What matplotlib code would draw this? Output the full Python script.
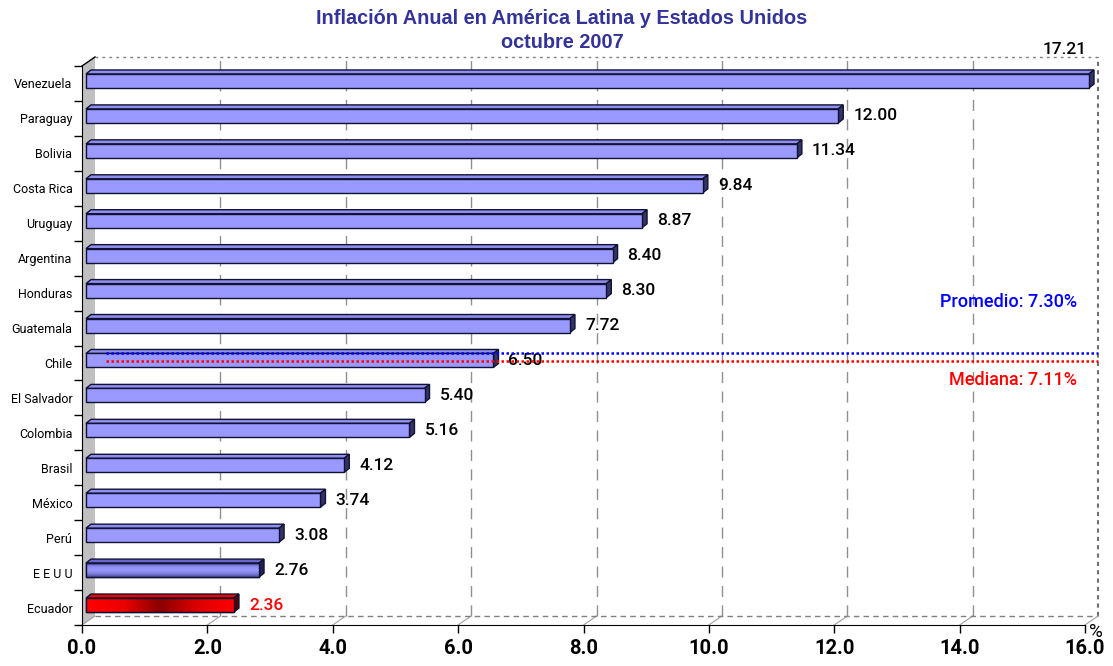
import numpy as np
import matplotlib
matplotlib.use("Agg")
import matplotlib.pyplot as plt
from matplotlib.patches import Polygon
from matplotlib.colors import LinearSegmentedColormap

# data (bottom to top)
countries = ["Ecuador", "E E U U", "Perú", "México", "Brasil", "Colombia", "El Salvador",
             "Chile", "Guatemala", "Honduras", "Argentina", "Uruguay", "Costa Rica",
             "Bolivia", "Paraguay", "Venezuela"]
values = [2.36, 2.76, 3.08, 3.74, 4.12, 5.16, 5.40, 6.50, 7.72, 8.30, 8.40, 8.87,
          9.84, 11.34, 12.00, 17.21]
promedio = 7.30
mediana = 7.11
xmax = 16.0
xticks = np.arange(0, 17, 2)

narrow = ["Roboto", "DejaVu Sans"]
W, H = 1113, 666
fig = plt.figure(figsize=(W / 100, H / 100), dpi=100)
ax = fig.add_axes([82 / W, 41 / H, 1003 / W, 559 / H])
ax.set_xlim(0, xmax)
ax.set_ylim(0, len(countries))

# pixel -> data conversions
px = xmax / 1003.0
py = len(countries) / 559.0
ddx, ddy = 13 * px, 9 * py      # wall depth

# back wall, floor and left wall
wall_c = "#c0c0c0"
ax.add_patch(Polygon([(0, 0), (0, 16), (ddx, 16 + ddy), (ddx, ddy)], closed=True,
                     facecolor=wall_c, edgecolor="none", clip_on=False, zorder=0))
for t in xticks[1:-1]:
    ax.plot([t + ddx, t + ddx], [ddy, 16 + ddy], color="#909090", lw=1,
            ls=(0, (8, 6)), clip_on=False, zorder=1)
    ax.plot([t, t + ddx], [0, ddy], color="#a0a0a0", lw=0.8, clip_on=False, zorder=1)
ax.plot([ddx, xmax + ddx], [ddy, ddy], color="#808080", lw=1, ls=(0, (4, 3)),
        clip_on=False, zorder=1)
ax.plot([ddx, xmax + ddx], [16 + ddy, 16 + ddy], color="#808080", lw=1, ls=(0, (2, 3)),
        clip_on=False, zorder=1)
ax.plot([xmax + ddx, xmax + ddx], [ddy, 16 + ddy], color="#707070", lw=1.5, ls=(0, (2, 2)),
        clip_on=False, zorder=1)
ax.plot([xmax, xmax + ddx], [0, ddy], color="#a0a0a0", lw=0.8, clip_on=False, zorder=1)
ax.plot([0, ddx], [16, 16 + ddy], color="black", lw=1, clip_on=False, zorder=2)
ax.plot([0, ddx], [0, ddy], color="#a0a0a0", lw=0.8, clip_on=False, zorder=1)

# bars
bx, by = 4 * px, 2.5 * py        # bar front offset
bh = 14 * py                     # bar thickness
sx, sy = 5 * px, 4 * py          # bar depth
base_c, top_c, side_c = "#9999ff", "#8f8fef", "#333366"

eeuu_cmap = LinearSegmentedColormap.from_list("e", ["#4a4a99", "#8c8cf0", "#9999ff", "#8080e0", "#4a4a99"])
ecu_cmap = LinearSegmentedColormap.from_list("r", ["#ff0000", "#ee0000", "#8a0000", "#dd0000", "#ff0000"])

for i, (name, v) in enumerate(zip(countries, values)):
    vv = min(v, xmax)
    c = i + 0.5 + by
    x0, x1 = bx, bx + vv
    y0, y1 = c - bh / 2, c + bh / 2
    if name == "Ecuador":
        fc, tc, sc = "#ff0000", "#ee0000", "#550000"
    elif name == "E E U U":
        fc, tc, sc = "#7777dd", "#6666cc", "#222255"
    else:
        fc, tc, sc = base_c, top_c, side_c
    front = Polygon([(x0, y0), (x1, y0), (x1, y1), (x0, y1)], closed=True,
                    facecolor=fc, edgecolor="#111133", lw=1, clip_on=False, zorder=4)
    top = Polygon([(x0, y1), (x1, y1), (x1 + sx, y1 + sy), (x0 + sx, y1 + sy)], closed=True,
                  facecolor=tc, edgecolor="#111133", lw=1, clip_on=False, zorder=3)
    side = Polygon([(x1, y0), (x1 + sx, y0 + sy), (x1 + sx, y1 + sy), (x1, y1)], closed=True,
                   facecolor=sc, edgecolor="#111133", lw=1, clip_on=False, zorder=3)
    ax.add_patch(top)
    ax.add_patch(side)
    ax.add_patch(front)
    if name in ("Ecuador", "E E U U"):
        if name == "Ecuador":
            grad = np.linspace(0, 1, 256).reshape(1, -1)
            cm = ecu_cmap
        else:
            grad = np.linspace(0, 1, 256).reshape(-1, 1)
            cm = eeuu_cmap
        im = ax.imshow(grad, cmap=cm, extent=[x0, x1, y0, y1], aspect="auto",
                       zorder=4.5, interpolation="bilinear")
        im.set_clip_path(front)
        ax.add_patch(Polygon([(x0, y0), (x1, y0), (x1, y1), (x0, y1)], closed=True,
                             facecolor="none", edgecolor="#111133", lw=1,
                             clip_on=False, zorder=5))
    # value labels
    col = "red" if name == "Ecuador" else "black"
    if v > xmax:
        ax.text(xmax + 2 * px, 16 + 16 * py, f"{v:.2f}", ha="right", va="center",
                fontsize=12.5, family=narrow, fontweight="medium", color=col,
                clip_on=False, zorder=6)
    else:
        ax.text(x1 + 15 * px, c, f"{v:.2f}", ha="left", va="center",
                fontsize=12.5, family=narrow, fontweight="medium", color=col, zorder=6)
ax.set_ylim(0, len(countries))
ax.set_xlim(0, xmax)

# promedio / mediana lines
yp = (625 - 352.7) * py
ym = (625 - 360.7) * py
ax.plot([24 * px, xmax + ddx], [yp, yp], color="blue", lw=1.8, ls=(0, (1, 1)),
        clip_on=False, zorder=7)
ax.plot([24 * px, xmax + ddx], [ym, ym], color="red", lw=1.8, ls=(0, (1, 1)),
        clip_on=False, zorder=7)
ax.text(15.88, yp + 1.45, f"Promedio: {promedio:.2f}%", ha="right", va="center",
        fontsize=13, family=narrow, fontweight="medium", color="blue", zorder=7)
ax.text(15.88, ym - 0.55, f"Mediana: {mediana:.2f}%", ha="right", va="center",
        fontsize=13, family=narrow, fontweight="medium", color="red", zorder=7)

# axes styling
for s in ("top", "right"):
    ax.spines[s].set_visible(False)
ax.spines["left"].set_zorder(8)
ax.spines["bottom"].set_zorder(8)
ax.set_xticks(xticks)
ax.set_xticklabels([f"{t:.1f}" for t in xticks], fontsize=14.5, family=narrow,
                   fontweight="bold")
ax.tick_params(axis="x", length=6, width=1, pad=4)
ax.set_yticks(np.arange(0, len(countries) + 1))
ax.set_yticklabels([])
ax.tick_params(axis="y", length=6, width=1)
ax.set_yticks(np.arange(len(countries)) + 0.5, minor=True)
ax.set_yticklabels(countries, minor=True, fontsize=9, family=narrow)
ax.tick_params(axis="y", which="minor", length=0, pad=7)
ax.text(xmax + 0.06, -0.2, "%", ha="left", va="center", fontsize=13.5, family=narrow,
        clip_on=False)

title_font = ["Liberation Sans", "DejaVu Sans"]
fig.text(562 / W, 1 - 19 / H, "Inflación Anual en América Latina y Estados Unidos",
         ha="center", va="center", fontsize=14.3, fontweight="bold",
         family=title_font, color="#333399")
fig.text(562 / W, 1 - 43 / H, "octubre 2007", ha="center", va="center", fontsize=14.3,
         fontweight="bold", family=title_font, color="#333399")

fig.savefig("out.png", dpi=100)
